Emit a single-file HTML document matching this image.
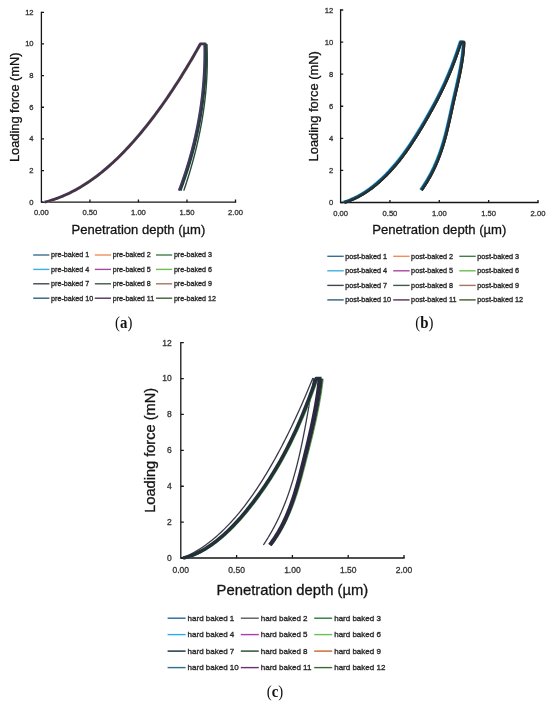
<!DOCTYPE html>
<html><head><meta charset="utf-8"><style>
html,body{margin:0;padding:0;background:#fff;}
body{width:550px;height:705px;overflow:hidden;}
svg{display:block;will-change:transform;}
.tk{font-family:"Liberation Sans", sans-serif;fill:#333;stroke:#333;stroke-width:0.3px;}
.ti{font-family:"Liberation Sans", sans-serif;fill:#141414;stroke:#141414;stroke-width:0.3px;}
.lg{font-family:"Liberation Sans", sans-serif;fill:#2c2c2c;stroke:#2c2c2c;stroke-width:0.35px;}
.lab{font-family:"Liberation Serif", serif;fill:#111;}
</style></head><body>
<svg width="550" height="705" viewBox="0 0 550 705">
<rect width="550" height="705" fill="#fff"/>
<path d="M41.40 12.30 V202.20 H235.50" fill="none" stroke="#161616" stroke-width="1.3" stroke-linecap="square"/>
<path d="M41.40 202.20 h2.6 M41.40 170.55 h2.6 M41.40 138.90 h2.6 M41.40 107.25 h2.6 M41.40 75.60 h2.6 M41.40 43.95 h2.6 M41.40 12.30 h2.6 M89.92 202.20 v-2.6 M138.45 202.20 v-2.6 M186.97 202.20 v-2.6 M235.50 202.20 v-2.6" stroke="#161616" stroke-width="1.3" fill="none"/>
<text x="33.60" y="204.71" text-anchor="end" class="tk" style="font-size:7.6px">0</text>
<text x="33.60" y="173.06" text-anchor="end" class="tk" style="font-size:7.6px">2</text>
<text x="33.60" y="141.41" text-anchor="end" class="tk" style="font-size:7.6px">4</text>
<text x="33.60" y="109.76" text-anchor="end" class="tk" style="font-size:7.6px">6</text>
<text x="33.60" y="78.11" text-anchor="end" class="tk" style="font-size:7.6px">8</text>
<text x="33.60" y="46.46" text-anchor="end" class="tk" style="font-size:7.6px">10</text>
<text x="33.60" y="14.81" text-anchor="end" class="tk" style="font-size:7.6px">12</text>
<text x="41.40" y="215.40" text-anchor="middle" class="tk" style="font-size:7.6px">0.00</text>
<text x="89.92" y="215.40" text-anchor="middle" class="tk" style="font-size:7.6px">0.50</text>
<text x="138.45" y="215.40" text-anchor="middle" class="tk" style="font-size:7.6px">1.00</text>
<text x="186.97" y="215.40" text-anchor="middle" class="tk" style="font-size:7.6px">1.50</text>
<text x="235.50" y="215.40" text-anchor="middle" class="tk" style="font-size:7.6px">2.00</text>
<text x="138.45" y="233.60" text-anchor="middle" class="ti" style="font-size:13.05px">Penetration depth (µm)</text>
<text transform="translate(19.00 107.25) rotate(-90)" x="0" y="0" text-anchor="middle" class="ti" style="font-size:12.8px">Loading force (mN)</text>
<path d="M43.54 201.50 L45.31 201.05 L47.07 200.57 L48.84 200.06 L50.61 199.51 L52.37 198.94 L54.14 198.34 L55.90 197.71 L57.67 197.05 L59.43 196.35 L61.20 195.63 L62.97 194.88 L64.73 194.10 L66.50 193.28 L68.26 192.44 L70.03 191.56 L71.80 190.66 L73.56 189.73 L75.33 188.76 L77.09 187.76 L78.86 186.74 L80.63 185.68 L82.39 184.60 L84.16 183.48 L85.92 182.33 L87.69 181.15 L89.46 179.95 L91.22 178.71 L92.99 177.44 L94.75 176.14 L96.52 174.81 L98.29 173.45 L100.05 172.06 L101.81 170.64 L103.55 169.19 L105.29 167.71 L107.04 166.20 L108.78 164.66 L110.52 163.09 L112.27 161.49 L114.01 159.86 L115.75 158.20 L117.49 156.51 L119.24 154.78 L120.98 153.03 L122.72 151.25 L124.46 149.44 L126.21 147.60 L127.95 145.73 L129.69 143.83 L131.43 141.90 L133.18 139.94 L134.92 137.94 L136.66 135.92 L138.41 133.87 L140.15 131.79 L141.89 129.68 L143.63 127.54 L145.38 125.37 L147.12 123.17 L148.86 120.94 L150.60 118.68 L152.35 116.39 L154.09 114.07 L155.83 111.72 L157.58 109.34 L159.32 106.93 L161.06 104.49 L162.80 102.02 L164.55 99.52 L166.29 97.00 L168.03 94.44 L169.77 91.85 L171.52 89.23 L173.26 86.58 L175.00 83.90 L176.74 81.20 L178.49 78.46 L180.23 75.69 L181.97 72.89 L183.72 70.07 L185.46 67.21 L187.20 64.32 L188.94 61.40 L190.69 58.46 L192.43 55.48 L194.17 52.47 L195.91 49.43 L197.66 46.37 L199.40 43.27 L204.26 43.25 L204.29 44.90 L204.32 46.55 L204.33 48.19 L204.34 49.84 L204.35 51.49 L204.34 53.14 L204.33 54.78 L204.31 56.43 L204.29 58.08 L204.25 59.73 L204.22 61.38 L204.17 63.02 L204.12 64.67 L204.06 66.32 L203.99 67.97 L203.91 69.61 L203.83 71.26 L203.74 72.91 L203.65 74.56 L203.54 76.21 L203.43 77.85 L203.32 79.50 L203.19 81.15 L203.06 82.80 L202.92 84.44 L202.78 86.09 L202.62 87.74 L202.46 89.39 L202.29 91.03 L202.12 92.68 L201.94 94.33 L201.75 95.98 L201.55 97.63 L201.35 99.27 L201.14 100.92 L200.92 102.57 L200.69 104.22 L200.46 105.86 L200.22 107.51 L199.97 109.16 L199.72 110.81 L199.46 112.46 L199.19 114.10 L198.91 115.75 L198.62 117.40 L198.33 119.05 L198.03 120.69 L197.73 122.34 L197.41 123.99 L197.09 125.64 L196.76 127.29 L196.43 128.93 L196.08 130.58 L195.73 132.23 L195.37 133.88 L195.01 135.52 L194.63 137.17 L194.25 138.82 L193.87 140.47 L193.47 142.12 L193.07 143.76 L192.65 145.41 L192.24 147.06 L191.81 148.71 L191.38 150.35 L190.94 152.00 L190.49 153.65 L190.03 155.30 L189.57 156.94 L189.09 158.59 L188.62 160.24 L188.13 161.89 L187.63 163.54 L187.13 165.18 L186.62 166.83 L186.10 168.48 L185.58 170.13 L185.05 171.77 L184.51 173.42 L183.96 175.07 L183.40 176.72 L182.84 178.37 L182.27 180.01 L181.69 181.66 L181.10 183.31 L180.51 184.96 L179.90 186.60 L179.29 188.25 L178.68 189.90" fill="none" stroke="#a4d8f0" stroke-width="1" stroke-linejoin="round"/>
<path d="M45.54 202.90 L47.31 202.45 L49.07 201.97 L50.84 201.46 L52.61 200.91 L54.37 200.34 L56.14 199.74 L57.90 199.11 L59.67 198.45 L61.43 197.75 L63.20 197.03 L64.97 196.28 L66.73 195.50 L68.50 194.68 L70.26 193.84 L72.03 192.96 L73.80 192.06 L75.56 191.13 L77.33 190.16 L79.09 189.16 L80.86 188.14 L82.63 187.08 L84.39 186.00 L86.16 184.88 L87.92 183.73 L89.69 182.55 L91.46 181.35 L93.22 180.11 L94.99 178.84 L96.75 177.54 L98.52 176.21 L100.29 174.85 L102.05 173.46 L103.81 172.04 L105.55 170.59 L107.29 169.11 L109.04 167.60 L110.78 166.06 L112.52 164.49 L114.27 162.89 L116.01 161.26 L117.75 159.60 L119.49 157.91 L121.24 156.18 L122.98 154.43 L124.72 152.65 L126.46 150.84 L128.21 149.00 L129.95 147.13 L131.69 145.23 L133.43 143.30 L135.18 141.34 L136.92 139.34 L138.66 137.32 L140.41 135.27 L142.15 133.19 L143.89 131.08 L145.63 128.94 L147.38 126.77 L149.12 124.57 L150.86 122.34 L152.60 120.08 L154.35 117.79 L156.09 115.47 L157.83 113.12 L159.58 110.74 L161.32 108.33 L163.06 105.89 L164.80 103.42 L166.55 100.92 L168.29 98.40 L170.03 95.84 L171.77 93.25 L173.52 90.63 L175.26 87.98 L177.00 85.30 L178.74 82.60 L180.49 79.86 L182.23 77.09 L183.97 74.29 L185.72 71.47 L187.46 68.61 L189.20 65.72 L190.94 62.80 L192.69 59.86 L194.43 56.88 L196.17 53.87 L197.91 50.83 L199.66 47.77 L201.40 44.67" fill="none" stroke="#a8d890" stroke-width="1" stroke-linejoin="round"/>
<path d="M44.54 202.20 L46.31 201.75 L48.07 201.27 L49.84 200.76 L51.61 200.21 L53.37 199.64 L55.14 199.04 L56.90 198.41 L58.67 197.75 L60.43 197.05 L62.20 196.33 L63.97 195.58 L65.73 194.80 L67.50 193.98 L69.26 193.14 L71.03 192.26 L72.80 191.36 L74.56 190.43 L76.33 189.46 L78.09 188.46 L79.86 187.44 L81.63 186.38 L83.39 185.30 L85.16 184.18 L86.92 183.03 L88.69 181.85 L90.46 180.65 L92.22 179.41 L93.99 178.14 L95.75 176.84 L97.52 175.51 L99.29 174.15 L101.05 172.76 L102.81 171.34 L104.55 169.89 L106.29 168.41 L108.04 166.90 L109.78 165.36 L111.52 163.79 L113.27 162.19 L115.01 160.56 L116.75 158.90 L118.49 157.21 L120.24 155.48 L121.98 153.73 L123.72 151.95 L125.46 150.14 L127.21 148.30 L128.95 146.43 L130.69 144.53 L132.43 142.60 L134.18 140.64 L135.92 138.64 L137.66 136.62 L139.41 134.57 L141.15 132.49 L142.89 130.38 L144.63 128.24 L146.38 126.07 L148.12 123.87 L149.86 121.64 L151.60 119.38 L153.35 117.09 L155.09 114.77 L156.83 112.42 L158.58 110.04 L160.32 107.63 L162.06 105.19 L163.80 102.72 L165.55 100.22 L167.29 97.70 L169.03 95.14 L170.77 92.55 L172.52 89.93 L174.26 87.28 L176.00 84.60 L177.74 81.90 L179.49 79.16 L181.23 76.39 L182.97 73.59 L184.72 70.77 L186.46 67.91 L188.20 65.02 L189.94 62.10 L191.69 59.16 L193.43 56.18 L195.17 53.17 L196.91 50.13 L198.66 47.07 L200.40 43.97 L205.26 43.95 L205.29 45.60 L205.32 47.25" fill="none" stroke="#4a3048" stroke-width="2.8" stroke-linejoin="round"/>
<path d="M204.46 43.95 L204.49 45.60 L204.52 47.25 L204.53 48.89 L204.54 50.54 L204.55 52.19 L204.54 53.84 L204.53 55.48 L204.51 57.13 L204.49 58.78 L204.45 60.43 L204.42 62.08 L204.37 63.72 L204.32 65.37 L204.26 67.02 L204.19 68.67 L204.11 70.31 L204.03 71.96 L203.94 73.61 L203.85 75.26 L203.74 76.91 L203.63 78.55 L203.52 80.20 L203.39 81.85 L203.26 83.50 L203.12 85.14 L202.98 86.79 L202.82 88.44 L202.66 90.09 L202.49 91.73 L202.32 93.38 L202.14 95.03 L201.95 96.68 L201.75 98.33 L201.55 99.97 L201.34 101.62 L201.12 103.27 L200.89 104.92 L200.66 106.56 L200.42 108.21 L200.17 109.86 L199.92 111.51 L199.66 113.16 L199.39 114.80 L199.11 116.45 L198.82 118.10 L198.53 119.75 L198.23 121.39 L197.93 123.04 L197.61 124.69 L197.29 126.34 L196.96 127.99 L196.63 129.63 L196.28 131.28 L195.93 132.93 L195.57 134.58 L195.21 136.22 L194.83 137.87 L194.45 139.52 L194.07 141.17 L193.67 142.82 L193.27 144.46 L192.85 146.11 L192.44 147.76 L192.01 149.41 L191.58 151.05 L191.14 152.70 L190.69 154.35 L190.23 156.00 L189.77 157.64 L189.29 159.29 L188.82 160.94 L188.33 162.59 L187.83 164.24 L187.33 165.88 L186.82 167.53 L186.30 169.18 L185.78 170.83 L185.25 172.47 L184.71 174.12 L184.16 175.77 L183.60 177.42 L183.04 179.07 L182.47 180.71 L181.89 182.36 L181.30 184.01 L180.71 185.66 L180.10 187.30 L179.49 188.95 L178.88 190.60" fill="none" stroke="#4a3668" stroke-width="2.2" stroke-linejoin="round"/>
<path d="M206.06 43.95 L206.09 45.60 L206.12 47.25 L206.13 48.89 L206.14 50.54 L206.15 52.19 L206.14 53.84 L206.13 55.48 L206.11 57.13 L206.09 58.78 L206.05 60.43 L206.02 62.08 L205.97 63.72 L205.92 65.37 L205.86 67.02 L205.79 68.67 L205.71 70.31 L205.63 71.96 L205.54 73.61 L205.45 75.26 L205.34 76.91 L205.23 78.55 L205.12 80.20 L204.99 81.85 L204.86 83.50 L204.72 85.14 L204.58 86.79 L204.42 88.44 L204.26 90.09 L204.09 91.73 L203.92 93.38 L203.74 95.03 L203.55 96.68 L203.35 98.33 L203.15 99.97 L202.94 101.62 L202.72 103.27 L202.49 104.92 L202.26 106.56 L202.02 108.21 L201.77 109.86 L201.52 111.51 L201.26 113.16 L200.99 114.80 L200.71 116.45 L200.42 118.10 L200.13 119.75 L199.83 121.39 L199.53 123.04 L199.21 124.69 L198.89 126.34 L198.56 127.99 L198.23 129.63 L197.88 131.28 L197.53 132.93 L197.17 134.58 L196.81 136.22 L196.43 137.87 L196.05 139.52 L195.67 141.17 L195.27 142.82 L194.87 144.46 L194.45 146.11 L194.04 147.76 L193.61 149.41 L193.18 151.05 L192.74 152.70 L192.29 154.35 L191.83 156.00 L191.37 157.64 L190.89 159.29 L190.42 160.94 L189.93 162.59 L189.43 164.24 L188.93 165.88 L188.42 167.53 L187.90 169.18 L187.38 170.83 L186.85 172.47 L186.31 174.12 L185.76 175.77 L185.20 177.42 L184.64 179.07 L184.07 180.71 L183.49 182.36 L182.90 184.01 L182.31 185.66 L181.70 187.30 L181.09 188.95 L180.48 190.60" fill="none" stroke="#243e3a" stroke-width="2.2" stroke-linejoin="round"/>
<path d="M206.88 43.95 L206.96 45.60 L207.03 47.25 L207.09 48.89 L207.14 50.54 L207.18 52.19 L207.22 53.84 L207.24 55.48 L207.26 57.13 L207.27 58.78 L207.27 60.43 L207.27 62.08 L207.25 63.72 L207.23 65.37 L207.20 67.02 L207.16 68.67 L207.11 70.31 L207.06 71.96 L207.00 73.61 L206.92 75.26 L206.85 76.91 L206.76 78.55 L206.66 80.20 L206.56 81.85 L206.45 83.50 L206.33 85.14 L206.21 86.79 L206.07 88.44 L205.93 90.09 L205.78 91.73 L205.63 93.38 L205.46 95.03 L205.29 96.68 L205.11 98.33 L204.92 99.97 L204.73 101.62 L204.53 103.27 L204.32 104.92 L204.10 106.56 L203.88 108.21 L203.64 109.86 L203.40 111.51 L203.16 113.16 L202.90 114.80 L202.64 116.45 L202.37 118.10 L202.10 119.75 L201.82 121.39 L201.53 123.04 L201.23 124.69 L200.92 126.34 L200.61 127.99 L200.29 129.63 L199.97 131.28 L199.64 132.93 L199.30 134.58 L198.95 136.22 L198.60 137.87 L198.24 139.52 L197.87 141.17 L197.50 142.82 L197.12 144.46 L196.73 146.11 L196.33 147.76 L195.93 149.41 L195.52 151.05 L195.11 152.70 L194.69 154.35 L194.26 156.00 L193.83 157.64 L193.39 159.29 L192.94 160.94 L192.49 162.59 L192.02 164.24 L191.56 165.88 L191.08 167.53 L190.61 169.18 L190.12 170.83 L189.63 172.47 L189.13 174.12 L188.62 175.77 L188.11 177.42 L187.59 179.07 L187.07 180.71 L186.54 182.36 L186.01 184.01 L185.46 185.66 L184.92 187.30 L184.36 188.95 L183.80 190.60" fill="none" stroke="#2a4a3a" stroke-width="1.4"/>
<line x1="33.20" y1="255.00" x2="49.40" y2="255.00" stroke="#3a6f90" stroke-width="1.4"/>
<text x="51.10" y="257.36" class="lg" style="font-size:7.15px">pre-baked 1</text>
<line x1="94.80" y1="255.00" x2="111.00" y2="255.00" stroke="#ec8f5c" stroke-width="1.4"/>
<text x="112.70" y="257.36" class="lg" style="font-size:7.15px">pre-baked 2</text>
<line x1="156.00" y1="255.00" x2="172.20" y2="255.00" stroke="#3f7f4c" stroke-width="1.4"/>
<text x="173.90" y="257.36" class="lg" style="font-size:7.15px">pre-baked 3</text>
<line x1="33.20" y1="269.40" x2="49.40" y2="269.40" stroke="#3fb0de" stroke-width="1.4"/>
<text x="51.10" y="271.76" class="lg" style="font-size:7.15px">pre-baked 4</text>
<line x1="94.80" y1="269.40" x2="111.00" y2="269.40" stroke="#a847a0" stroke-width="1.4"/>
<text x="112.70" y="271.76" class="lg" style="font-size:7.15px">pre-baked 5</text>
<line x1="156.00" y1="269.40" x2="172.20" y2="269.40" stroke="#6cbf4e" stroke-width="1.4"/>
<text x="173.90" y="271.76" class="lg" style="font-size:7.15px">pre-baked 6</text>
<line x1="33.20" y1="283.80" x2="49.40" y2="283.80" stroke="#3d4852" stroke-width="1.4"/>
<text x="51.10" y="286.16" class="lg" style="font-size:7.15px">pre-baked 7</text>
<line x1="94.80" y1="283.80" x2="111.00" y2="283.80" stroke="#3e5b45" stroke-width="1.4"/>
<text x="112.70" y="286.16" class="lg" style="font-size:7.15px">pre-baked 8</text>
<line x1="156.00" y1="283.80" x2="172.20" y2="283.80" stroke="#a47560" stroke-width="1.4"/>
<text x="173.90" y="286.16" class="lg" style="font-size:7.15px">pre-baked 9</text>
<line x1="33.20" y1="298.20" x2="49.40" y2="298.20" stroke="#2e607e" stroke-width="1.4"/>
<text x="51.10" y="300.56" class="lg" style="font-size:7.15px">pre-baked 10</text>
<line x1="94.80" y1="298.20" x2="111.00" y2="298.20" stroke="#5a2e5a" stroke-width="1.4"/>
<text x="112.70" y="300.56" class="lg" style="font-size:7.15px">pre-baked 11</text>
<line x1="156.00" y1="298.20" x2="172.20" y2="298.20" stroke="#3e5e34" stroke-width="1.4"/>
<text x="173.90" y="300.56" class="lg" style="font-size:7.15px">pre-baked 12</text>
<text transform="translate(123.70 328.40) scale(0.9 1)" x="0" y="0" text-anchor="middle" class="lab" style="font-size:16.5px">(<tspan font-weight="bold">a</tspan>)</text>
<path d="M340.60 10.00 V202.50 H538.00" fill="none" stroke="#161616" stroke-width="1.3" stroke-linecap="square"/>
<path d="M340.60 202.50 h2.6 M340.60 170.42 h2.6 M340.60 138.33 h2.6 M340.60 106.25 h2.6 M340.60 74.17 h2.6 M340.60 42.08 h2.6 M340.60 10.00 h2.6 M389.95 202.50 v-2.6 M439.30 202.50 v-2.6 M488.65 202.50 v-2.6 M538.00 202.50 v-2.6" stroke="#161616" stroke-width="1.3" fill="none"/>
<text x="333.20" y="205.01" text-anchor="end" class="tk" style="font-size:7.6px">0</text>
<text x="333.20" y="172.92" text-anchor="end" class="tk" style="font-size:7.6px">2</text>
<text x="333.20" y="140.84" text-anchor="end" class="tk" style="font-size:7.6px">4</text>
<text x="333.20" y="108.76" text-anchor="end" class="tk" style="font-size:7.6px">6</text>
<text x="333.20" y="76.67" text-anchor="end" class="tk" style="font-size:7.6px">8</text>
<text x="333.20" y="44.59" text-anchor="end" class="tk" style="font-size:7.6px">10</text>
<text x="333.20" y="12.51" text-anchor="end" class="tk" style="font-size:7.6px">12</text>
<text x="340.60" y="215.70" text-anchor="middle" class="tk" style="font-size:7.6px">0.00</text>
<text x="389.95" y="215.70" text-anchor="middle" class="tk" style="font-size:7.6px">0.50</text>
<text x="439.30" y="215.70" text-anchor="middle" class="tk" style="font-size:7.6px">1.00</text>
<text x="488.65" y="215.70" text-anchor="middle" class="tk" style="font-size:7.6px">1.50</text>
<text x="538.00" y="215.70" text-anchor="middle" class="tk" style="font-size:7.6px">2.00</text>
<text x="439.30" y="234.30" text-anchor="middle" class="ti" style="font-size:13.1px">Penetration depth (µm)</text>
<text transform="translate(318.20 106.25) rotate(-90)" x="0" y="0" text-anchor="middle" class="ti" style="font-size:12.9px">Loading force (mN)</text>
<path d="M342.75 201.65 L344.07 201.23 L345.39 200.79 L346.71 200.32 L348.03 199.82 L349.35 199.29 L350.67 198.74 L351.99 198.16 L353.31 197.55 L354.63 196.91 L355.95 196.25 L357.27 195.55 L358.59 194.83 L359.92 194.08 L361.24 193.30 L362.56 192.49 L363.88 191.65 L365.20 190.79 L366.52 189.89 L367.84 188.96 L369.16 188.01 L370.48 187.02 L371.80 186.01 L373.12 184.96 L374.44 183.88 L375.76 182.78 L377.08 181.64 L378.41 180.47 L379.73 179.27 L381.05 178.04 L382.37 176.78 L383.69 175.49 L385.01 174.16 L386.33 172.81 L387.65 171.42 L388.97 170.00 L390.29 168.55 L391.61 167.07 L392.93 165.55 L394.25 164.00 L395.58 162.42 L396.90 160.81 L398.22 159.16 L399.54 157.48 L400.85 155.76 L402.15 154.02 L403.46 152.24 L404.76 150.42 L406.06 148.58 L407.37 146.70 L408.67 144.78 L409.97 142.84 L411.28 140.87 L412.58 138.87 L413.88 136.84 L415.19 134.78 L416.49 132.69 L417.79 130.57 L419.10 128.43 L420.40 126.26 L421.70 124.07 L423.01 121.85 L424.31 119.60 L425.61 117.34 L426.92 115.04 L428.22 112.73 L429.52 110.40 L430.83 108.04 L432.13 105.65 L433.43 103.24 L434.74 100.78 L436.04 98.29 L437.34 95.75 L438.65 93.17 L439.95 90.52 L441.25 87.82 L442.56 85.06 L443.86 82.23 L445.16 79.33 L446.47 76.34 L447.77 73.28 L449.07 70.13 L450.38 66.90 L451.68 63.56 L452.98 60.13 L454.29 56.59 L455.59 52.94 L456.89 49.18 L458.20 45.31 L459.50 41.31 L462.56 41.23 L462.48 42.90 L462.39 44.56 L462.28 46.23 L462.15 47.89 L462.00 49.55 L461.83 51.22 L461.65 52.88 L461.45 54.55 L461.23 56.21 L461.00 57.88 L460.76 59.54 L460.50 61.20 L460.23 62.87 L459.94 64.53 L459.65 66.20 L459.34 67.86 L459.03 69.53 L458.70 71.19 L458.37 72.85 L458.03 74.52 L457.68 76.18 L457.32 77.85 L456.96 79.51 L456.59 81.17 L456.22 82.84 L455.85 84.50 L455.47 86.17 L455.09 87.83 L454.70 89.50 L454.32 91.16 L453.94 92.82 L453.55 94.49 L453.17 96.15 L452.79 97.82 L452.41 99.48 L452.03 101.15 L451.66 102.81 L451.29 104.47 L450.93 106.14 L450.56 107.80 L450.20 109.47 L449.84 111.13 L449.48 112.80 L449.11 114.46 L448.75 116.12 L448.38 117.79 L448.01 119.45 L447.64 121.12 L447.26 122.78 L446.87 124.44 L446.48 126.11 L446.09 127.77 L445.68 129.44 L445.27 131.10 L444.85 132.77 L444.42 134.43 L443.98 136.09 L443.52 137.76 L443.06 139.42 L442.58 141.09 L442.09 142.75 L441.58 144.42 L441.06 146.08 L440.53 147.74 L439.98 149.41 L439.41 151.07 L438.82 152.74 L438.21 154.40 L437.59 156.07 L436.94 157.73 L436.28 159.39 L435.59 161.06 L434.88 162.72 L434.15 164.39 L433.40 166.05 L432.62 167.71 L431.81 169.38 L430.98 171.04 L430.12 172.71 L429.24 174.37 L428.32 176.04 L427.38 177.70 L426.41 179.36 L425.41 181.03 L424.37 182.69 L423.31 184.36 L422.21 186.02 L421.08 187.69 L419.92 189.35" fill="none" stroke="#22aae6" stroke-width="1.4" stroke-linejoin="round"/>
<path d="M345.05 203.20 L346.37 202.78 L347.69 202.34 L349.01 201.87 L350.33 201.37 L351.65 200.84 L352.97 200.29 L354.29 199.71 L355.61 199.10 L356.93 198.46 L358.25 197.80 L359.57 197.10 L360.89 196.38 L362.22 195.63 L363.54 194.85 L364.86 194.04 L366.18 193.20 L367.50 192.34 L368.82 191.44 L370.14 190.51 L371.46 189.56 L372.78 188.57 L374.10 187.56 L375.42 186.51 L376.74 185.43 L378.06 184.33 L379.38 183.19 L380.71 182.02 L382.03 180.82 L383.35 179.59 L384.67 178.33 L385.99 177.04 L387.31 175.71 L388.63 174.36 L389.95 172.97 L391.27 171.55 L392.59 170.10 L393.91 168.62 L395.23 167.10 L396.55 165.55 L397.88 163.97 L399.20 162.36 L400.52 160.71 L401.84 159.03 L403.15 157.31 L404.45 155.57 L405.76 153.79 L407.06 151.97 L408.36 150.13 L409.67 148.25 L410.97 146.33 L412.27 144.39 L413.58 142.42 L414.88 140.42 L416.18 138.39 L417.49 136.33 L418.79 134.24 L420.09 132.12 L421.40 129.98 L422.70 127.81 L424.00 125.62 L425.31 123.40 L426.61 121.15 L427.91 118.89 L429.22 116.59 L430.52 114.28 L431.82 111.95 L433.13 109.59 L434.43 107.20 L435.73 104.79 L437.04 102.33 L438.34 99.84 L439.64 97.30 L440.95 94.72 L442.25 92.07 L443.55 89.37 L444.86 86.61 L446.16 83.78 L447.46 80.88 L448.77 77.89 L450.07 74.83 L451.37 71.68 L452.68 68.45 L453.98 65.11 L455.28 61.68 L456.59 58.14 L457.89 54.49 L459.19 50.73 L460.50 46.86 L461.80 42.86 L464.86 42.78 L464.78 44.45 L464.69 46.11 L464.58 47.78 L464.45 49.44 L464.30 51.10 L464.13 52.77 L463.95 54.43 L463.75 56.10 L463.53 57.76 L463.30 59.43 L463.06 61.09 L462.80 62.75 L462.53 64.42 L462.24 66.08 L461.95 67.75 L461.64 69.41 L461.33 71.08 L461.00 72.74 L460.67 74.40 L460.33 76.07 L459.98 77.73 L459.62 79.40 L459.26 81.06 L458.89 82.72 L458.52 84.39 L458.15 86.05 L457.77 87.72 L457.39 89.38 L457.00 91.05 L456.62 92.71 L456.24 94.37 L455.85 96.04 L455.47 97.70 L455.09 99.37 L454.71 101.03 L454.33 102.70 L453.96 104.36 L453.59 106.02 L453.23 107.69 L452.86 109.35 L452.50 111.02 L452.14 112.68 L451.78 114.35 L451.41 116.01 L451.05 117.67 L450.68 119.34 L450.31 121.00 L449.94 122.67 L449.56 124.33 L449.17 125.99 L448.78 127.66 L448.39 129.32 L447.98 130.99 L447.57 132.65 L447.15 134.32 L446.72 135.98 L446.28 137.64 L445.82 139.31 L445.36 140.97 L444.88 142.64 L444.39 144.30 L443.88 145.97 L443.36 147.63 L442.83 149.29 L442.28 150.96 L441.71 152.62 L441.12 154.29 L440.51 155.95 L439.89 157.62 L439.24 159.28 L438.58 160.94 L437.89 162.61 L437.18 164.27 L436.45 165.94 L435.70 167.60 L434.92 169.26 L434.11 170.93 L433.28 172.59 L432.42 174.26 L431.54 175.92 L430.62 177.59 L429.68 179.25 L428.71 180.91 L427.71 182.58 L426.67 184.24 L425.61 185.91 L424.51 187.57 L423.38 189.24 L422.22 190.90" fill="none" stroke="#6a5a3a" stroke-width="1" stroke-linejoin="round"/>
<path d="M344.05 202.50 L345.37 202.08 L346.69 201.64 L348.01 201.17 L349.33 200.67 L350.65 200.14 L351.97 199.59 L353.29 199.01 L354.61 198.40 L355.93 197.76 L357.25 197.10 L358.57 196.40 L359.89 195.68 L361.22 194.93 L362.54 194.15 L363.86 193.34 L365.18 192.50 L366.50 191.64 L367.82 190.74 L369.14 189.81 L370.46 188.86 L371.78 187.87 L373.10 186.86 L374.42 185.81 L375.74 184.73 L377.06 183.63 L378.38 182.49 L379.71 181.32 L381.03 180.12 L382.35 178.89 L383.67 177.63 L384.99 176.34 L386.31 175.01 L387.63 173.66 L388.95 172.27 L390.27 170.85 L391.59 169.40 L392.91 167.92 L394.23 166.40 L395.55 164.85 L396.88 163.27 L398.20 161.66 L399.52 160.01 L400.84 158.33 L402.15 156.61 L403.45 154.87 L404.76 153.09 L406.06 151.27 L407.36 149.43 L408.67 147.55 L409.97 145.63 L411.27 143.69 L412.58 141.72 L413.88 139.72 L415.18 137.69 L416.49 135.63 L417.79 133.54 L419.09 131.42 L420.40 129.28 L421.70 127.11 L423.00 124.92 L424.31 122.70 L425.61 120.45 L426.91 118.19 L428.22 115.89 L429.52 113.58 L430.82 111.25 L432.13 108.89 L433.43 106.50 L434.73 104.09 L436.04 101.63 L437.34 99.14 L438.64 96.60 L439.95 94.02 L441.25 91.37 L442.55 88.67 L443.86 85.91 L445.16 83.08 L446.46 80.18 L447.77 77.19 L449.07 74.13 L450.37 70.98 L451.68 67.75 L452.98 64.41 L454.28 60.98 L455.59 57.44 L456.89 53.79 L458.19 50.03 L459.50 46.16 L460.80 42.16 L463.86 42.08 L463.78 43.75 L463.69 45.41 L463.58 47.08 L463.45 48.74 L463.30 50.40 L463.13 52.07 L462.95 53.73 L462.75 55.40 L462.53 57.06 L462.30 58.73 L462.06 60.39 L461.80 62.05 L461.53 63.72 L461.24 65.38 L460.95 67.05 L460.64 68.71 L460.33 70.38 L460.00 72.04 L459.67 73.70 L459.33 75.37 L458.98 77.03 L458.62 78.70 L458.26 80.36 L457.89 82.02 L457.52 83.69 L457.15 85.35 L456.77 87.02 L456.39 88.68 L456.00 90.35 L455.62 92.01 L455.24 93.67 L454.85 95.34 L454.47 97.00 L454.09 98.67 L453.71 100.33 L453.33 102.00 L452.96 103.66 L452.59 105.32 L452.23 106.99 L451.86 108.65 L451.50 110.32 L451.14 111.98 L450.78 113.65 L450.41 115.31 L450.05 116.97 L449.68 118.64 L449.31 120.30 L448.94 121.97 L448.56 123.63 L448.17 125.29 L447.78 126.96 L447.39 128.62 L446.98 130.29 L446.57 131.95 L446.15 133.62 L445.72 135.28 L445.28 136.94 L444.82 138.61 L444.36 140.27 L443.88 141.94 L443.39 143.60 L442.88 145.27 L442.36 146.93 L441.83 148.59 L441.28 150.26 L440.71 151.92 L440.12 153.59 L439.51 155.25 L438.89 156.92 L438.24 158.58 L437.58 160.24 L436.89 161.91 L436.18 163.57 L435.45 165.24 L434.70 166.90 L433.92 168.56 L433.11 170.23 L432.28 171.89 L431.42 173.56 L430.54 175.22 L429.62 176.89 L428.68 178.55 L427.71 180.21 L426.71 181.88 L425.67 183.54 L424.61 185.21 L423.51 186.87 L422.38 188.54 L421.22 190.20" fill="none" stroke="#1f4058" stroke-width="3.2" stroke-linejoin="round"/>
<path d="M344.75 202.95 L346.07 202.53 L347.39 202.09 L348.71 201.62 L350.03 201.12 L351.35 200.59 L352.67 200.04 L353.99 199.46 L355.31 198.85 L356.63 198.21 L357.95 197.55 L359.27 196.85 L360.59 196.13 L361.92 195.38 L363.24 194.60 L364.56 193.79 L365.88 192.95 L367.20 192.09 L368.52 191.19 L369.84 190.26 L371.16 189.31 L372.48 188.32 L373.80 187.31 L375.12 186.26 L376.44 185.18 L377.76 184.08 L379.08 182.94 L380.41 181.77 L381.73 180.57 L383.05 179.34 L384.37 178.08 L385.69 176.79 L387.01 175.46 L388.33 174.11 L389.65 172.72 L390.97 171.30 L392.29 169.85 L393.61 168.37 L394.93 166.85 L396.25 165.30 L397.58 163.72 L398.90 162.11 L400.22 160.46 L401.54 158.78 L402.85 157.06 L404.15 155.32 L405.46 153.54 L406.76 151.72 L408.06 149.88 L409.37 148.00 L410.67 146.08 L411.97 144.14 L413.28 142.17 L414.58 140.17 L415.88 138.14 L417.19 136.08 L418.49 133.99 L419.79 131.87 L421.10 129.73 L422.40 127.56 L423.70 125.37 L425.01 123.15 L426.31 120.90 L427.61 118.64 L428.92 116.34 L430.22 114.03 L431.52 111.70 L432.83 109.34 L434.13 106.95 L435.43 104.54 L436.74 102.08 L438.04 99.59 L439.34 97.05 L440.65 94.47 L441.95 91.82 L443.25 89.12 L444.56 86.36 L445.86 83.53 L447.16 80.63 L448.47 77.64 L449.77 74.58 L451.07 71.43 L452.38 68.20 L453.68 64.86 L454.98 61.43 L456.29 57.89 L457.59 54.24 L458.89 50.48 L460.20 46.61 L461.50 42.61 L464.56 42.53 L464.48 44.20 L464.39 45.86 L464.28 47.53 L464.15 49.19 L464.00 50.85 L463.83 52.52 L463.65 54.18 L463.45 55.85 L463.23 57.51 L463.00 59.18 L462.76 60.84 L462.50 62.50 L462.23 64.17 L461.94 65.83 L461.65 67.50 L461.34 69.16 L461.03 70.83 L460.70 72.49 L460.37 74.15 L460.03 75.82 L459.68 77.48 L459.32 79.15 L458.96 80.81 L458.59 82.47 L458.22 84.14 L457.85 85.80 L457.47 87.47 L457.09 89.13 L456.70 90.80 L456.32 92.46 L455.94 94.12 L455.55 95.79 L455.17 97.45 L454.79 99.12 L454.41 100.78 L454.03 102.45 L453.66 104.11 L453.29 105.77 L452.93 107.44 L452.56 109.10 L452.20 110.77 L451.84 112.43 L451.48 114.10 L451.11 115.76 L450.75 117.42 L450.38 119.09 L450.01 120.75 L449.64 122.42 L449.26 124.08 L448.87 125.74 L448.48 127.41 L448.09 129.07 L447.68 130.74 L447.27 132.40 L446.85 134.07 L446.42 135.73 L445.98 137.39 L445.52 139.06 L445.06 140.72 L444.58 142.39 L444.09 144.05 L443.58 145.72 L443.06 147.38 L442.53 149.04 L441.98 150.71 L441.41 152.37 L440.82 154.04 L440.21 155.70 L439.59 157.37 L438.94 159.03 L438.28 160.69 L437.59 162.36 L436.88 164.02 L436.15 165.69 L435.40 167.35 L434.62 169.01 L433.81 170.68 L432.98 172.34 L432.12 174.01 L431.24 175.67 L430.32 177.34 L429.38 179.00 L428.41 180.66 L427.41 182.33 L426.37 183.99 L425.31 185.66 L424.21 187.32 L423.08 188.99 L421.92 190.65" fill="none" stroke="#262a22" stroke-width="1.4" stroke-linejoin="round"/>
<line x1="327.30" y1="256.30" x2="343.70" y2="256.30" stroke="#3a6f90" stroke-width="1.4"/>
<text x="345.20" y="258.69" class="lg" style="font-size:7.25px">post-baked 1</text>
<line x1="393.20" y1="256.30" x2="409.60" y2="256.30" stroke="#ec8f5c" stroke-width="1.4"/>
<text x="411.10" y="258.69" class="lg" style="font-size:7.25px">post-baked 2</text>
<line x1="459.30" y1="256.30" x2="475.70" y2="256.30" stroke="#3f7f4c" stroke-width="1.4"/>
<text x="477.20" y="258.69" class="lg" style="font-size:7.25px">post-baked 3</text>
<line x1="327.30" y1="270.80" x2="343.70" y2="270.80" stroke="#3fb0de" stroke-width="1.4"/>
<text x="345.20" y="273.19" class="lg" style="font-size:7.25px">post-baked 4</text>
<line x1="393.20" y1="270.80" x2="409.60" y2="270.80" stroke="#a847a0" stroke-width="1.4"/>
<text x="411.10" y="273.19" class="lg" style="font-size:7.25px">post-baked 5</text>
<line x1="459.30" y1="270.80" x2="475.70" y2="270.80" stroke="#6cbf4e" stroke-width="1.4"/>
<text x="477.20" y="273.19" class="lg" style="font-size:7.25px">post-baked 6</text>
<line x1="327.30" y1="285.40" x2="343.70" y2="285.40" stroke="#3d4852" stroke-width="1.4"/>
<text x="345.20" y="287.79" class="lg" style="font-size:7.25px">post-baked 7</text>
<line x1="393.20" y1="285.40" x2="409.60" y2="285.40" stroke="#3e5b45" stroke-width="1.4"/>
<text x="411.10" y="287.79" class="lg" style="font-size:7.25px">post-baked 8</text>
<line x1="459.30" y1="285.40" x2="475.70" y2="285.40" stroke="#a47560" stroke-width="1.4"/>
<text x="477.20" y="287.79" class="lg" style="font-size:7.25px">post-baked 9</text>
<line x1="327.30" y1="299.90" x2="343.70" y2="299.90" stroke="#2e607e" stroke-width="1.4"/>
<text x="345.20" y="302.29" class="lg" style="font-size:7.25px">post-baked 10</text>
<line x1="393.20" y1="299.90" x2="409.60" y2="299.90" stroke="#5a2e5a" stroke-width="1.4"/>
<text x="411.10" y="302.29" class="lg" style="font-size:7.25px">post-baked 11</text>
<line x1="459.30" y1="299.90" x2="475.70" y2="299.90" stroke="#3e5e34" stroke-width="1.4"/>
<text x="477.20" y="302.29" class="lg" style="font-size:7.25px">post-baked 12</text>
<text transform="translate(424.30 328.40) scale(0.9 1)" x="0" y="0" text-anchor="middle" class="lab" style="font-size:16.5px">(<tspan font-weight="bold">b</tspan>)</text>
<path d="M180.80 342.70 V558.00 H404.00" fill="none" stroke="#161616" stroke-width="1.3" stroke-linecap="square"/>
<path d="M180.80 558.00 h3.0 M180.80 522.12 h3.0 M180.80 486.23 h3.0 M180.80 450.35 h3.0 M180.80 414.47 h3.0 M180.80 378.58 h3.0 M180.80 342.70 h3.0 M236.60 558.00 v-3.0 M292.40 558.00 v-3.0 M348.20 558.00 v-3.0 M404.00 558.00 v-3.0" stroke="#161616" stroke-width="1.3" fill="none"/>
<text x="171.80" y="560.80" text-anchor="end" class="tk" style="font-size:8.5px">0</text>
<text x="171.80" y="524.92" text-anchor="end" class="tk" style="font-size:8.5px">2</text>
<text x="171.80" y="489.04" text-anchor="end" class="tk" style="font-size:8.5px">4</text>
<text x="171.80" y="453.16" text-anchor="end" class="tk" style="font-size:8.5px">6</text>
<text x="171.80" y="417.27" text-anchor="end" class="tk" style="font-size:8.5px">8</text>
<text x="171.80" y="381.39" text-anchor="end" class="tk" style="font-size:8.5px">10</text>
<text x="171.80" y="345.50" text-anchor="end" class="tk" style="font-size:8.5px">12</text>
<text x="180.80" y="573.00" text-anchor="middle" class="tk" style="font-size:8.5px">0.00</text>
<text x="236.60" y="573.00" text-anchor="middle" class="tk" style="font-size:8.5px">0.50</text>
<text x="292.40" y="573.00" text-anchor="middle" class="tk" style="font-size:8.5px">1.00</text>
<text x="348.20" y="573.00" text-anchor="middle" class="tk" style="font-size:8.5px">1.50</text>
<text x="404.00" y="573.00" text-anchor="middle" class="tk" style="font-size:8.5px">2.00</text>
<text x="292.40" y="594.50" text-anchor="middle" class="ti" style="font-size:14.8px">Penetration depth (µm)</text>
<text transform="translate(155.00 450.35) rotate(-90)" x="0" y="0" text-anchor="middle" class="ti" style="font-size:14.6px">Loading force (mN)</text>
<path d="M182.52 558.00 L183.99 557.38 L185.46 556.74 L186.94 556.07 L188.41 555.36 L189.88 554.63 L191.35 553.87 L192.82 553.09 L194.30 552.27 L195.77 551.42 L197.24 550.54 L198.71 549.64 L200.18 548.70 L201.66 547.74 L203.13 546.74 L204.60 545.72 L206.07 544.66 L207.54 543.58 L209.02 542.46 L210.49 541.31 L211.96 540.14 L213.43 538.93 L214.90 537.69 L216.38 536.42 L217.85 535.12 L219.32 533.79 L220.79 532.43 L222.26 531.03 L223.74 529.61 L225.21 528.15 L226.68 526.66 L228.15 525.14 L229.62 523.59 L231.10 522.00 L232.57 520.39 L234.04 518.74 L235.51 517.06 L236.99 515.34 L238.46 513.59 L239.93 511.81 L241.40 510.00 L242.86 508.16 L244.31 506.28 L245.77 504.37 L247.22 502.42 L248.68 500.44 L250.13 498.43 L251.59 496.38 L253.04 494.30 L254.50 492.19 L255.95 490.04 L257.41 487.86 L258.86 485.65 L260.32 483.40 L261.77 481.11 L263.23 478.79 L264.68 476.44 L266.14 474.05 L267.59 471.62 L269.05 469.16 L270.50 466.67 L271.96 464.14 L273.41 461.58 L274.87 458.97 L276.32 456.34 L277.78 453.67 L279.23 450.96 L280.69 448.22 L282.14 445.44 L283.60 442.62 L285.05 439.77 L286.51 436.88 L287.96 433.95 L289.42 430.99 L290.87 427.99 L292.33 424.95 L293.78 421.88 L295.24 418.77 L296.69 415.62 L298.15 412.44 L299.60 409.22 L301.06 405.96 L302.51 402.66 L303.97 399.32 L305.42 395.95 L306.88 392.54 L308.33 389.09 L309.79 385.60 L311.24 382.08 L312.70 378.51 L313.84 378.58 L313.49 380.45 L313.15 382.32 L312.81 384.19 L312.47 386.06 L312.13 387.93 L311.80 389.80 L311.46 391.67 L311.13 393.54 L310.80 395.41 L310.47 397.28 L310.15 399.15 L309.82 401.02 L309.49 402.89 L309.16 404.76 L308.84 406.63 L308.51 408.50 L308.18 410.37 L307.85 412.24 L307.52 414.11 L307.19 415.98 L306.86 417.85 L306.52 419.72 L306.18 421.59 L305.84 423.46 L305.50 425.33 L305.15 427.20 L304.80 429.07 L304.44 430.94 L304.08 432.81 L303.72 434.68 L303.35 436.55 L302.98 438.42 L302.60 440.29 L302.22 442.16 L301.83 444.03 L301.44 445.90 L301.04 447.77 L300.63 449.64 L300.22 451.51 L299.80 453.38 L299.37 455.25 L298.93 457.12 L298.49 458.99 L298.04 460.86 L297.58 462.73 L297.11 464.60 L296.64 466.47 L296.15 468.34 L295.65 470.21 L295.15 472.08 L294.63 473.95 L294.11 475.82 L293.57 477.69 L293.03 479.56 L292.47 481.43 L291.90 483.29 L291.32 485.16 L290.72 487.03 L290.12 488.90 L289.50 490.77 L288.86 492.64 L288.22 494.51 L287.55 496.38 L286.87 498.25 L286.18 500.12 L285.47 501.99 L284.74 503.86 L283.99 505.73 L283.23 507.60 L282.45 509.47 L281.65 511.34 L280.82 513.21 L279.98 515.08 L279.12 516.95 L278.24 518.82 L277.34 520.69 L276.41 522.56 L275.46 524.43 L274.49 526.30 L273.50 528.17 L272.48 530.04 L271.43 531.91 L270.37 533.78 L269.27 535.65 L268.15 537.52 L267.00 539.39 L265.83 541.26 L264.63 543.13 L263.40 545.00" fill="none" stroke="#3a3a48" stroke-width="1.3" stroke-linejoin="round"/>
<path d="M184.73 558.50 L186.24 558.15 L187.75 557.77 L189.26 557.34 L190.77 556.86 L192.28 556.35 L193.79 555.79 L195.29 555.20 L196.80 554.56 L198.31 553.89 L199.82 553.17 L201.33 552.42 L202.84 551.62 L204.35 550.79 L205.86 549.92 L207.37 549.01 L208.87 548.06 L210.38 547.08 L211.89 546.06 L213.40 545.00 L214.91 543.90 L216.42 542.77 L217.93 541.61 L219.44 540.41 L220.94 539.17 L222.45 537.90 L223.96 536.59 L225.47 535.25 L226.98 533.88 L228.49 532.47 L230.00 531.04 L231.51 529.56 L233.02 528.06 L234.52 526.52 L236.03 524.95 L237.54 523.35 L239.05 521.72 L240.56 520.06 L242.07 518.37 L243.57 516.65 L245.06 514.90 L246.55 513.12 L248.03 511.31 L249.52 509.47 L251.01 507.61 L252.49 505.71 L253.98 503.79 L255.47 501.84 L256.95 499.86 L258.44 497.86 L259.93 495.83 L261.41 493.77 L262.90 491.68 L264.39 489.56 L265.87 487.40 L267.36 485.21 L268.84 482.98 L270.33 480.71 L271.82 478.40 L273.30 476.05 L274.79 473.66 L276.28 471.23 L277.76 468.75 L279.25 466.22 L280.74 463.64 L282.22 461.02 L283.71 458.34 L285.20 455.61 L286.68 452.82 L288.17 449.98 L289.66 447.08 L291.14 444.13 L292.63 441.11 L294.12 438.03 L295.60 434.89 L297.09 431.68 L298.58 428.41 L300.06 425.06 L301.55 421.65 L303.03 418.17 L304.52 414.62 L306.01 410.99 L307.49 407.29 L308.98 403.51 L310.47 399.65 L311.95 395.72 L313.44 391.70 L314.93 387.60 L316.41 383.42 L317.90 379.15" fill="none" stroke="#5aa84a" stroke-width="1.1" stroke-linejoin="round"/>
<path d="M323.26 378.88 L323.05 380.75 L322.83 382.62 L322.59 384.49 L322.35 386.36 L322.09 388.23 L321.82 390.10 L321.55 391.97 L321.26 393.84 L320.96 395.71 L320.65 397.58 L320.34 399.45 L320.01 401.32 L319.67 403.19 L319.33 405.06 L318.98 406.93 L318.62 408.80 L318.25 410.67 L317.87 412.54 L317.49 414.41 L317.10 416.28 L316.70 418.15 L316.30 420.02 L315.89 421.89 L315.48 423.76 L315.05 425.63 L314.63 427.50 L314.19 429.37 L313.76 431.24 L313.31 433.11 L312.87 434.98 L312.42 436.85 L311.96 438.72 L311.50 440.59 L311.04 442.46 L310.58 444.33 L310.11 446.20 L309.64 448.07 L309.16 449.94 L308.69 451.81 L308.21 453.68 L307.73 455.55 L307.25 457.42 L306.77 459.29 L306.29 461.16 L305.81 463.03 L305.32 464.90 L304.84 466.77 L304.35 468.64 L303.87 470.51 L303.37 472.38 L302.88 474.25 L302.38 476.12 L301.87 477.99 L301.36 479.86 L300.84 481.73 L300.31 483.59 L299.77 485.46 L299.22 487.33 L298.66 489.20 L298.09 491.07 L297.51 492.94 L296.91 494.81 L296.30 496.68 L295.67 498.55 L295.03 500.42 L294.37 502.29 L293.69 504.16 L293.00 506.03 L292.28 507.90 L291.55 509.77 L290.79 511.64 L290.02 513.51 L289.22 515.38 L288.39 517.25 L287.54 519.12 L286.66 520.99 L285.75 522.86 L284.81 524.73 L283.84 526.60 L282.83 528.47 L281.79 530.34 L280.71 532.21 L279.59 534.08 L278.43 535.95 L277.22 537.82 L275.98 539.69 L274.68 541.56 L273.34 543.43 L271.95 545.30" fill="none" stroke="#5aa84a" stroke-width="1.0" stroke-linejoin="round"/>
<path d="M183.03 558.00 L184.54 557.65 L186.05 557.27 L187.56 556.84 L189.07 556.36 L190.58 555.85 L192.09 555.29 L193.59 554.70 L195.10 554.06 L196.61 553.39 L198.12 552.67 L199.63 551.92 L201.14 551.12 L202.65 550.29 L204.16 549.42 L205.67 548.51 L207.17 547.56 L208.68 546.58 L210.19 545.56 L211.70 544.50 L213.21 543.40 L214.72 542.27 L216.23 541.11 L217.74 539.91 L219.24 538.67 L220.75 537.40 L222.26 536.09 L223.77 534.75 L225.28 533.38 L226.79 531.97 L228.30 530.54 L229.81 529.06 L231.32 527.56 L232.82 526.02 L234.33 524.45 L235.84 522.85 L237.35 521.22 L238.86 519.56 L240.37 517.87 L241.87 516.15 L243.36 514.40 L244.85 512.62 L246.33 510.81 L247.82 508.97 L249.31 507.11 L250.79 505.21 L252.28 503.29 L253.77 501.34 L255.25 499.36 L256.74 497.36 L258.23 495.33 L259.71 493.27 L261.20 491.18 L262.69 489.06 L264.17 486.90 L265.66 484.71 L267.14 482.48 L268.63 480.21 L270.12 477.90 L271.60 475.55 L273.09 473.16 L274.58 470.73 L276.06 468.25 L277.55 465.72 L279.04 463.14 L280.52 460.52 L282.01 457.84 L283.50 455.11 L284.98 452.32 L286.47 449.48 L287.96 446.58 L289.44 443.63 L290.93 440.61 L292.42 437.53 L293.90 434.39 L295.39 431.18 L296.88 427.91 L298.36 424.56 L299.85 421.15 L301.33 417.67 L302.82 414.12 L304.31 410.49 L305.79 406.79 L307.28 403.01 L308.77 399.15 L310.25 395.22 L311.74 391.20 L313.23 387.10 L314.71 382.92 L316.20 378.65 L321.56 378.58" fill="none" stroke="#23303a" stroke-width="3.6" stroke-linejoin="round"/>
<path d="M321.56 378.58 L321.35 380.45 L321.13 382.32 L320.89 384.19 L320.65 386.06 L320.39 387.93 L320.12 389.80 L319.85 391.67 L319.56 393.54 L319.26 395.41 L318.95 397.28 L318.64 399.15 L318.31 401.02 L317.97 402.89 L317.63 404.76 L317.28 406.63 L316.92 408.50 L316.55 410.37 L316.17 412.24 L315.79 414.11 L315.40 415.98 L315.00 417.85 L314.60 419.72 L314.19 421.59 L313.78 423.46 L313.35 425.33 L312.93 427.20 L312.49 429.07 L312.06 430.94 L311.61 432.81 L311.17 434.68 L310.72 436.55 L310.26 438.42 L309.80 440.29 L309.34 442.16 L308.88 444.03 L308.41 445.90 L307.94 447.77 L307.46 449.64 L306.99 451.51 L306.51 453.38 L306.03 455.25 L305.55 457.12 L305.07 458.99 L304.59 460.86 L304.11 462.73 L303.62 464.60 L303.14 466.47 L302.65 468.34 L302.17 470.21 L301.67 472.08 L301.18 473.95 L300.68 475.82 L300.17 477.69 L299.66 479.56 L299.14 481.43 L298.61 483.29 L298.07 485.16 L297.52 487.03 L296.96 488.90 L296.39 490.77 L295.81 492.64 L295.21 494.51 L294.60 496.38 L293.97 498.25 L293.33 500.12 L292.67 501.99 L291.99 503.86 L291.30 505.73 L290.58 507.60 L289.85 509.47 L289.09 511.34 L288.32 513.21 L287.52 515.08 L286.69 516.95 L285.84 518.82 L284.96 520.69 L284.05 522.56 L283.11 524.43 L282.14 526.30 L281.13 528.17 L280.09 530.04 L279.01 531.91 L277.89 533.78 L276.73 535.65 L275.52 537.52 L274.28 539.39 L272.98 541.26 L271.64 543.13 L270.25 545.00" fill="none" stroke="#27402e" stroke-width="3.0" stroke-linejoin="round"/>
<path d="M319.66 378.58 L319.48 380.45 L319.28 382.32 L319.07 384.19 L318.85 386.06 L318.62 387.93 L318.37 389.80 L318.12 391.67 L317.86 393.54 L317.58 395.41 L317.30 397.28 L317.00 399.15 L316.70 401.02 L316.39 402.89 L316.07 404.76 L315.74 406.63 L315.40 408.50 L315.06 410.37 L314.71 412.24 L314.34 414.11 L313.98 415.98 L313.60 417.85 L313.22 419.72 L312.83 421.59 L312.44 423.46 L312.04 425.33 L311.63 427.20 L311.22 429.07 L310.81 430.94 L310.38 432.81 L309.96 434.68 L309.53 436.55 L309.09 438.42 L308.65 440.29 L308.21 442.16 L307.77 444.03 L307.32 445.90 L306.87 447.77 L306.41 449.64 L305.96 451.51 L305.50 453.38 L305.04 455.25 L304.58 457.12 L304.11 458.99 L303.65 460.86 L303.19 462.73 L302.72 464.60 L302.25 466.47 L301.78 468.34 L301.31 470.21 L300.84 472.08 L300.36 473.95 L299.88 475.82 L299.38 477.69 L298.89 479.56 L298.38 481.43 L297.87 483.29 L297.34 485.16 L296.81 487.03 L296.27 488.90 L295.71 490.77 L295.14 492.64 L294.56 494.51 L293.96 496.38 L293.35 498.25 L292.72 500.12 L292.07 501.99 L291.41 503.86 L290.72 505.73 L290.02 507.60 L289.30 509.47 L288.56 511.34 L287.79 513.21 L287.00 515.08 L286.19 516.95 L285.35 518.82 L284.48 520.69 L283.58 522.56 L282.65 524.43 L281.68 526.30 L280.68 528.17 L279.65 530.04 L278.58 531.91 L277.46 533.78 L276.31 535.65 L275.11 537.52 L273.87 539.39 L272.58 541.26 L271.24 543.13 L269.85 545.00" fill="none" stroke="#2c2840" stroke-width="4.0" stroke-linejoin="round"/>
<line x1="167.60" y1="618.20" x2="185.60" y2="618.20" stroke="#1f6a9a" stroke-width="1.4"/>
<text x="187.60" y="620.84" class="lg" style="font-size:8.0px">hard baked 1</text>
<line x1="240.80" y1="618.20" x2="258.80" y2="618.20" stroke="#5a5a5a" stroke-width="1.4"/>
<text x="260.80" y="620.84" class="lg" style="font-size:8.0px">hard baked 2</text>
<line x1="314.20" y1="618.20" x2="332.20" y2="618.20" stroke="#2a7a38" stroke-width="1.4"/>
<text x="334.20" y="620.84" class="lg" style="font-size:8.0px">hard baked 3</text>
<line x1="167.60" y1="634.60" x2="185.60" y2="634.60" stroke="#2ab0e4" stroke-width="1.4"/>
<text x="187.60" y="637.24" class="lg" style="font-size:8.0px">hard baked 4</text>
<line x1="240.80" y1="634.60" x2="258.80" y2="634.60" stroke="#b03aa8" stroke-width="1.4"/>
<text x="260.80" y="637.24" class="lg" style="font-size:8.0px">hard baked 5</text>
<line x1="314.20" y1="634.60" x2="332.20" y2="634.60" stroke="#6ac050" stroke-width="1.4"/>
<text x="334.20" y="637.24" class="lg" style="font-size:8.0px">hard baked 6</text>
<line x1="167.60" y1="651.10" x2="185.60" y2="651.10" stroke="#12283a" stroke-width="1.4"/>
<text x="187.60" y="653.74" class="lg" style="font-size:8.0px">hard baked 7</text>
<line x1="240.80" y1="651.10" x2="258.80" y2="651.10" stroke="#1a4a2a" stroke-width="1.4"/>
<text x="260.80" y="653.74" class="lg" style="font-size:8.0px">hard baked 8</text>
<line x1="314.20" y1="651.10" x2="332.20" y2="651.10" stroke="#c8642e" stroke-width="1.4"/>
<text x="334.20" y="653.74" class="lg" style="font-size:8.0px">hard baked 9</text>
<line x1="167.60" y1="667.60" x2="185.60" y2="667.60" stroke="#2a7090" stroke-width="1.4"/>
<text x="187.60" y="670.24" class="lg" style="font-size:8.0px">hard baked 10</text>
<line x1="240.80" y1="667.60" x2="258.80" y2="667.60" stroke="#6a2f70" stroke-width="1.4"/>
<text x="260.80" y="670.24" class="lg" style="font-size:8.0px">hard baked 11</text>
<line x1="314.20" y1="667.60" x2="332.20" y2="667.60" stroke="#3a6a2c" stroke-width="1.4"/>
<text x="334.20" y="670.24" class="lg" style="font-size:8.0px">hard baked 12</text>
<text transform="translate(275.00 697.20) scale(0.9 1)" x="0" y="0" text-anchor="middle" class="lab" style="font-size:16.5px">(<tspan font-weight="bold">c</tspan>)</text>
</svg>
</body></html>
